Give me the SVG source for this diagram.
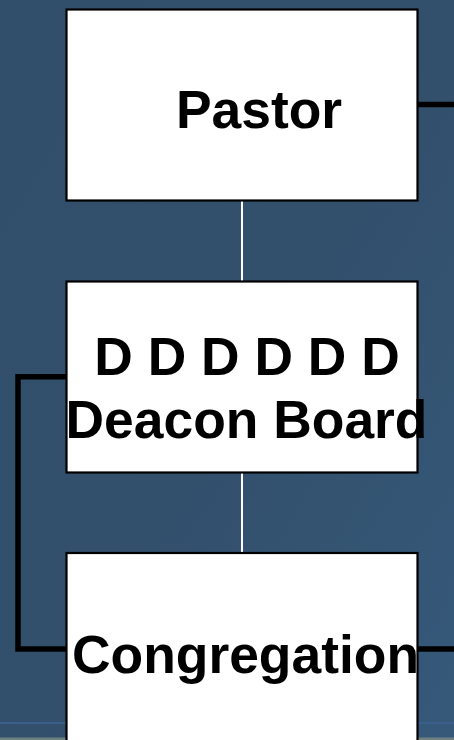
<svg xmlns="http://www.w3.org/2000/svg" width="454" height="740" viewBox="0 0 454 740">
<defs>
<linearGradient id="bg" x1="0" y1="0" x2="1" y2="1">
<stop offset="0" stop-color="#314e6b"/>
<stop offset="0.5" stop-color="#324f6b"/>
<stop offset="1" stop-color="#36597a"/>
</linearGradient>
<style>
.box{fill:#ffffff;stroke:#000000;stroke-width:2.2}
.lbl{font-family:"Liberation Sans",Arial,sans-serif;font-weight:bold;font-size:53.4px;fill:#000000}
.thick{fill:none;stroke:#000000;stroke-width:5.5}
.thin{fill:none;stroke:#ffffff;stroke-width:2}
</style>
</defs>
<rect x="0" y="0" width="454" height="740" fill="url(#bg)"/>
<rect x="0" y="722" width="454" height="2" fill="#3a5f8c"/>
<rect x="0" y="737.5" width="454" height="2.5" fill="#6f8282"/>
<g id="connectors">
<line class="thin" x1="242" y1="201" x2="242" y2="281"/>
<line class="thin" x1="242" y1="473" x2="242" y2="553"/>
<line class="thick" x1="418" y1="104.5" x2="454" y2="104.5"/>
<polyline class="thick" points="66,376.7 18,376.7 18,649 66,649"/>
<line class="thick" x1="418" y1="649" x2="454" y2="649"/>
</g>
<g id="pastor">
<rect class="box" x="66.5" y="9.5" width="351" height="191"/>
<text class="lbl" x="259" y="128.3" text-anchor="middle">Pastor</text>
</g>
<g id="deacon-board">
<rect class="box" x="66.5" y="281.5" width="351" height="191"/>
<text class="lbl" x="247" y="375" text-anchor="middle">D D D D D D</text>
<text class="lbl" x="246.5" y="438.3" text-anchor="middle">Deacon Board</text>
</g>
<g id="congregation">
<rect class="box" x="66.5" y="553" width="351" height="200"/>
<text class="lbl" x="245.5" y="672.7" text-anchor="middle">Congregation</text>
</g>
</svg>
